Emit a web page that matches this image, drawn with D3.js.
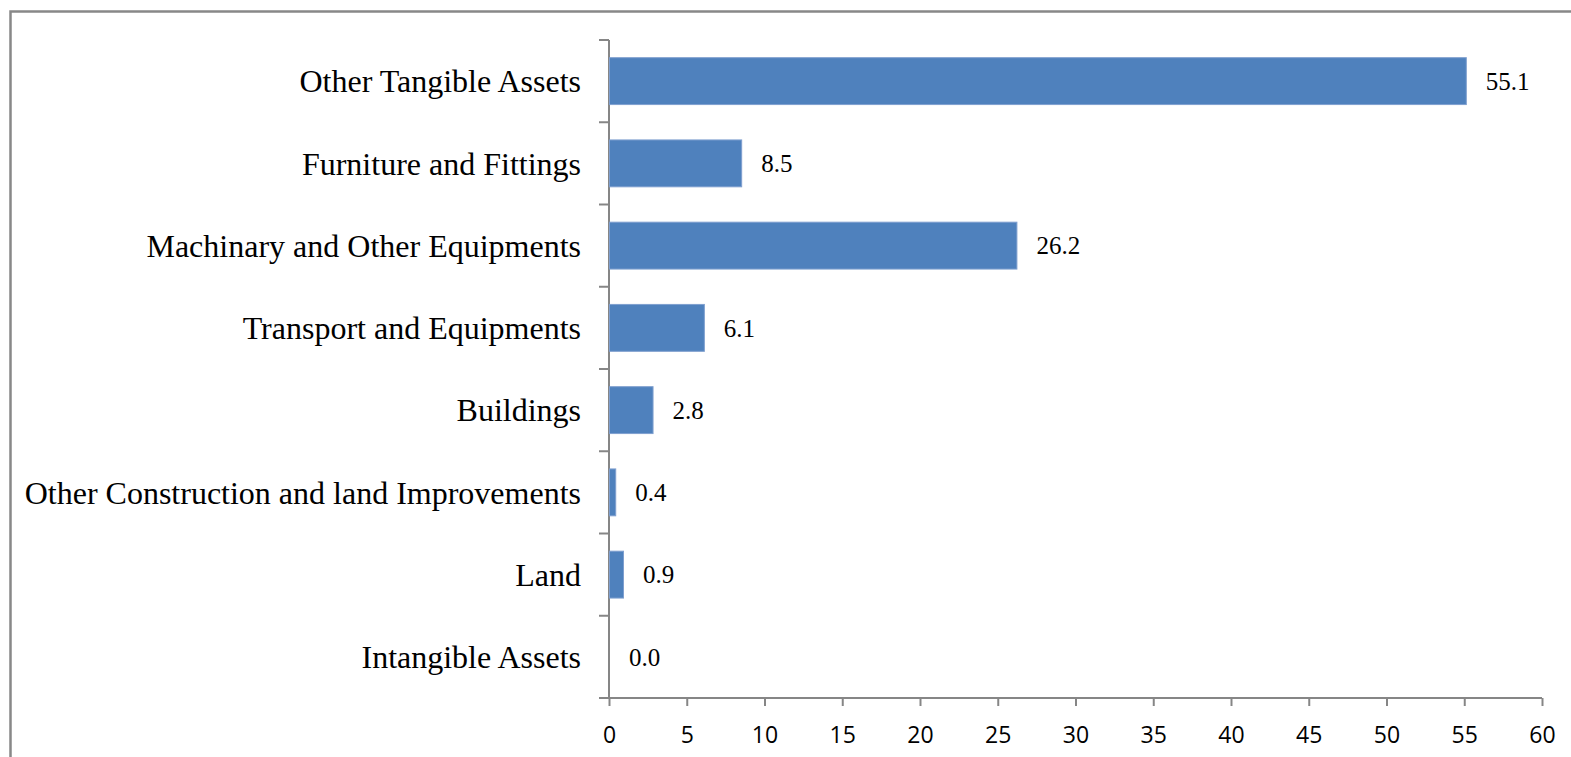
<!DOCTYPE html>
<html>
<head>
<meta charset="utf-8">
<script src="https://cdn.jsdelivr.net/npm/d3@7"></script>
<style>
  html, body { margin: 0; padding: 0; background: #fff; }
  svg { display: block; }
</style>
</head>
<body>
<svg id="chart" width="1571" height="757"></svg>
<script>
const categories = [
  "Other Tangible Assets",
  "Furniture and Fittings",
  "Machinary and Other Equipments",
  "Transport and Equipments",
  "Buildings",
  "Other Construction and land Improvements",
  "Land",
  "Intangible Assets"
];
const values = [55.1, 8.5, 26.2, 6.1, 2.8, 0.4, 0.9, 0.0];
const xTicks = [0, 5, 10, 15, 20, 25, 30, 35, 40, 45, 50, 55, 60];

const svg = d3.select("#chart");
const W = 1571, H = 757;
const m = { left: 609, right: 1542, top: 40, bottom: 698 };

// outer frame
svg.append("rect")
  .attr("x", 10.5).attr("y", 11.5)
  .attr("width", W + 20).attr("height", H + 20)
  .attr("fill", "none").attr("stroke", "#888").attr("stroke-width", 2.5);

const x = d3.scaleLinear().domain([0, 60]).range([m.left, m.right]);
const pad = 0.43;
const y = d3.scaleBand().domain(categories).range([m.top, m.bottom])
  .paddingInner(pad).paddingOuter(pad / 2);
const step = y.step();

const axisColor = "#868686";

// x axis
const xAxis = d3.axisBottom(x).tickValues(xTicks).tickSize(8).tickSizeOuter(0).tickPadding(21);
const gx = svg.append("g").attr("transform", `translate(0,${m.bottom})`).call(xAxis);
gx.select(".domain").attr("stroke", axisColor).attr("stroke-width", 2)
  .attr("d", `M${m.left - 10},0H${m.right}`);
gx.selectAll(".tick line").attr("stroke", axisColor).attr("stroke-width", 2);
gx.selectAll(".tick text")
  .attr("font-family", "'Open Sans', 'Liberation Sans', sans-serif")
  .attr("font-size", 23).attr("fill", "#000");

// y axis with ticks at category boundaries
const gy = svg.append("g");
gy.append("line")
  .attr("x1", m.left).attr("x2", m.left)
  .attr("y1", m.top).attr("y2", m.bottom)
  .attr("stroke", axisColor).attr("stroke-width", 2);
const boundaries = categories.map(c => y(c) - step * pad / 2).concat([m.bottom]);
gy.selectAll("line.tk").data(boundaries).join("line").attr("class", "tk")
  .attr("x1", m.left - 10).attr("x2", m.left)
  .attr("y1", d => d).attr("y2", d => d)
  .attr("stroke", axisColor).attr("stroke-width", 2);
gy.selectAll("text").data(categories).join("text")
  .attr("x", m.left - 28)
  .attr("y", c => y(c) + y.bandwidth() / 2)
  .attr("dy", "0.35em")
  .attr("text-anchor", "end")
  .attr("font-family", "'Liberation Serif', 'Times New Roman', serif")
  .attr("font-size", 32)
  .attr("fill", "#000")
  .text(c => c);

// bars
svg.append("g").selectAll("rect").data(categories).join("rect")
  .attr("x", x(0) + 0.5)
  .attr("y", c => y(c))
  .attr("width", (c, i) => x(values[i]) - x(0))
  .attr("height", y.bandwidth())
  .attr("fill", "#4F81BD")
  .attr("stroke", "#7f9fcf")
  .attr("stroke-width", 1);

// value labels
svg.append("g").selectAll("text").data(categories).join("text")
  .attr("x", (c, i) => x(values[i]) + 20)
  .attr("y", c => y(c) + y.bandwidth() / 2)
  .attr("dy", "0.35em")
  .attr("font-family", "'Liberation Serif', 'Times New Roman', serif")
  .attr("font-size", 25)
  .attr("fill", "#000")
  .text((c, i) => values[i].toFixed(1));
</script>
</body>
</html>
